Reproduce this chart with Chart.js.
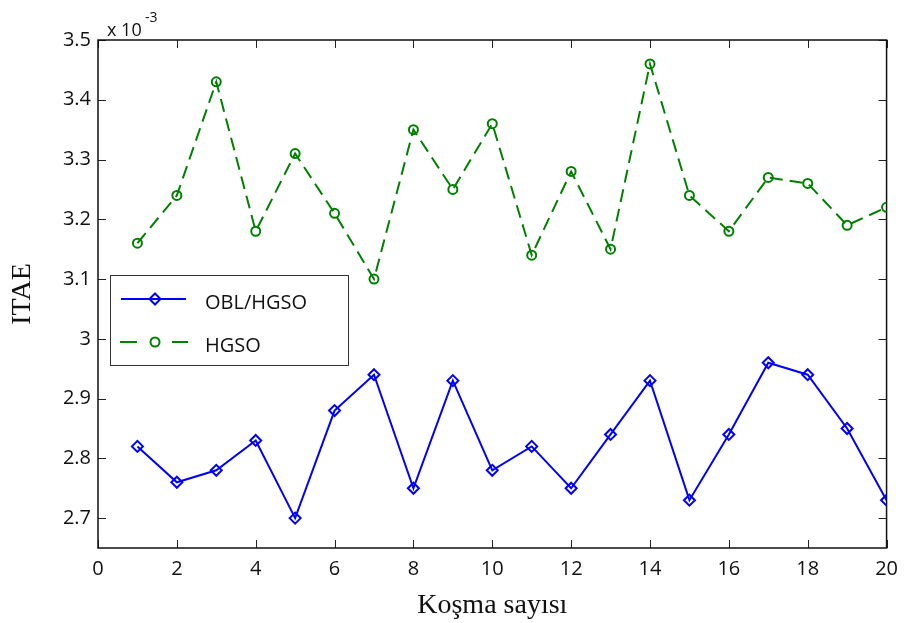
<!DOCTYPE html>
<html>
<head>
<meta charset="utf-8">
<script src="https://cdn.jsdelivr.net/npm/chart.js@4/dist/chart.umd.min.js"></script>
<style>
  html, body { margin: 0; padding: 0; background: #fff; }
</style>
</head>
<body>
<canvas id="chart" width="907" height="623"></canvas>
<script>
// koşma sayısı (run index)
const runs = [1, 2, 3, 4, 5, 6, 7, 8, 9, 10, 11, 12, 13, 14, 15, 16, 17, 18, 19, 20];
// ITAE values, shown in units of 1e-3
const oblHgso = [2.82, 2.76, 2.78, 2.83, 2.70, 2.88, 2.94, 2.75, 2.93, 2.78,
                 2.82, 2.75, 2.84, 2.93, 2.73, 2.84, 2.96, 2.94, 2.85, 2.73];
const hgso = [3.16, 3.24, 3.43, 3.18, 3.31, 3.21, 3.10, 3.35, 3.25, 3.36,
              3.14, 3.28, 3.15, 3.46, 3.24, 3.18, 3.27, 3.26, 3.19, 3.22];
const xTicks = [0, 2, 4, 6, 8, 10, 12, 14, 16, 18, 20];
const yTicks = [2.7, 2.8, 2.9, 3.0, 3.1, 3.2, 3.3, 3.4, 3.5];
const seriesNames = ['OBL/HGSO', 'HGSO'];

const tickFont = { family: '"Open Sans", sans-serif', size: 20 };
const titleFont = { family: '"Liberation Serif", "Times New Roman", serif', size: 28 };

// kutu çerçevesi ve içe dönük tik çizgileri
const boxTicks = {
    id: 'boxTicks',
    beforeDatasetsDraw(chart) {
        const ctx = chart.ctx;
        const a = chart.chartArea;
        const xs = chart.scales.x, ys = chart.scales.y;
        const len = 8;
        ctx.save();
        ctx.strokeStyle = '#222';
        ctx.lineWidth = 1;
        ctx.beginPath();
        xTicks.forEach(v => {
            const px = Math.round(xs.getPixelForValue(v)) + 0.5;
            ctx.moveTo(px, a.bottom); ctx.lineTo(px, a.bottom - len);
            ctx.moveTo(px, a.top); ctx.lineTo(px, a.top + len);
        });
        yTicks.forEach(v => {
            const py = Math.round(ys.getPixelForValue(v)) + 0.5;
            ctx.moveTo(a.left, py); ctx.lineTo(a.left + len, py);
            ctx.moveTo(a.right, py); ctx.lineTo(a.right - len, py);
        });
        ctx.stroke();
        ctx.lineWidth = 1.5;
        ctx.strokeStyle = '#111';
        ctx.strokeRect(a.left, a.top, a.right - a.left, a.bottom - a.top);
        ctx.restore();
    },
    afterDraw(chart) {
        const ctx = chart.ctx;
        const a = chart.chartArea;
        ctx.save();
        // üs etiketi
        ctx.fillStyle = '#111';
        ctx.textBaseline = 'alphabetic';
        ctx.font = '18px "Open Sans", sans-serif';
        ctx.fillText('x 10', a.left + 9, a.top - 4);
        ctx.font = '14px "Open Sans", sans-serif';
        ctx.fillText('-3', a.left + 47, a.top - 18);

        // gösterge kutusu
        const lx = a.left + 12, ly = a.top + 235, lw = 238, lh = 90;
        ctx.fillStyle = '#fff';
        ctx.fillRect(lx, ly, lw, lh);
        ctx.strokeStyle = '#333';
        ctx.lineWidth = 1;
        ctx.strokeRect(lx + 0.5, ly + 0.5, lw, lh);

        const rows = [ly + 24, ly + 67];
        chart.data.datasets.forEach((ds, i) => {
            const y = rows[i];
            const mx = lx + 45;
            ctx.strokeStyle = ds.borderColor;
            ctx.lineWidth = ds.borderWidth;
            ctx.setLineDash([]);
            ctx.beginPath();
            if (i === 0) {
                ctx.moveTo(lx + 11, y); ctx.lineTo(lx + 76, y);
            } else {
                ctx.moveTo(lx + 10, y); ctx.lineTo(lx + 27, y);
                ctx.moveTo(lx + 62, y); ctx.lineTo(lx + 78, y);
            }
            ctx.stroke();
            ctx.beginPath();
            if (ds.pointStyle === 'rectRot') {
                const r = ds.pointRadius;
                ctx.moveTo(mx, y - r); ctx.lineTo(mx + r, y);
                ctx.lineTo(mx, y + r); ctx.lineTo(mx - r, y);
                ctx.closePath();
            } else {
                ctx.arc(mx, y, ds.pointRadius, 0, Math.PI * 2);
            }
            ctx.stroke();
            ctx.fillStyle = '#111';
            ctx.font = '20px "Open Sans", sans-serif';
            ctx.textBaseline = 'middle';
            ctx.fillText(ds.label, lx + 95, y + 4);
        });
        ctx.restore();
    }
};

new Chart(document.getElementById('chart'), {
    type: 'line',
    data: {
        datasets: [
            {
                label: seriesNames[0],
                data: runs.map((r, i) => ({ x: r, y: oblHgso[i] })),
                borderColor: '#0000ff',
                borderWidth: 2,
                pointStyle: 'rectRot',
                pointRadius: 5.5,
                pointBorderWidth: 2,
                pointBackgroundColor: 'rgba(0,0,0,0)',
                pointBorderColor: '#0000ff',
                tension: 0
            },
            {
                label: seriesNames[1],
                data: runs.map((r, i) => ({ x: r, y: hgso[i] })),
                borderColor: '#008000',
                borderWidth: 2,
                borderDash: [13, 7],
                pointStyle: 'circle',
                pointRadius: 4.5,
                pointBorderWidth: 2,
                pointBackgroundColor: 'rgba(0,0,0,0)',
                pointBorderColor: '#008000',
                tension: 0
            }
        ]
    },
    options: {
        responsive: false,
        animation: false,
        layout: { padding: { top: 40, right: 17, left: 0, bottom: 0 } },
        plugins: {
            legend: { display: false },
            tooltip: { enabled: false }
        },
        scales: {
            x: {
                type: 'linear',
                min: 0,
                max: 20,
                afterBuildTicks: s => { s.ticks = xTicks.map(v => ({ value: v })); },
                afterFit: s => { s.height = 75; },
                grid: { display: false, drawTicks: false },
                border: { display: false },
                ticks: {
                    font: tickFont,
                    color: '#111',
                    padding: 9,
                    maxRotation: 0,
                    autoSkip: false
                },
                title: {
                    display: true,
                    text: 'Koşma sayısı',
                    font: titleFont,
                    color: '#111',
                    padding: { top: 0, bottom: 1 }
                }
            },
            y: {
                min: 2.65,
                max: 3.5,
                afterBuildTicks: s => { s.ticks = yTicks.map(v => ({ value: v })); },
                afterFit: s => { s.width = 98; },
                grid: { display: false, drawTicks: false },
                border: { display: false },
                ticks: {
                    font: tickFont,
                    color: '#111',
                    padding: 7,
                    autoSkip: false,
                    callback: v => String(+Number(v).toFixed(1))
                },
                title: {
                    display: true,
                    text: 'ITAE',
                    font: titleFont,
                    color: '#111',
                    padding: { top: 6, bottom: 0 }
                }
            }
        }
    },
    plugins: [boxTicks]
});
</script>
</body>
</html>
